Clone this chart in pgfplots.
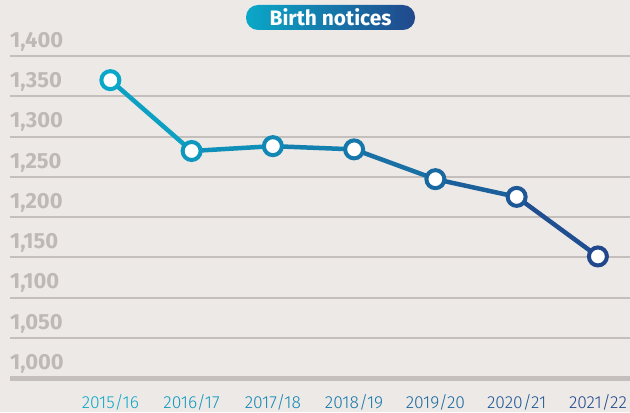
\documentclass[border=0pt]{standalone}
\usepackage{pgfplots}
\pgfplotsset{compat=1.18}
\usepackage{fontspec}
\setmainfont{Fira Sans}
\newfontfamily\lightfont{Fira Sans Light}
\definecolor{bg}{RGB}{237,233,230}
\definecolor{gridc}{RGB}{196,191,188}
\definecolor{labc}{RGB}{190,185,182}
\definecolor{cA}{RGB}{10,168,200}
\definecolor{cB}{RGB}{33,72,140}

\begin{document}
\begin{tikzpicture}[x=1bp,y=1bp]
\fill[bg] (0,0) rectangle (630,412);
\useasboundingbox (0,0) rectangle (630,412);
\begin{axis}[
    at={(10bp,34bp)}, anchor=south west,
    scale only axis,
    width=620bp, height=322bp,
    xmin=-1.235, xmax=6.395,
    ymin=1000, ymax=1400,
    axis line style={draw=none},
    major tick length=0pt,
    clip=false,
    ymajorgrids=true,
    grid style={gridc, line width=2bp},
    ytick={1000,1050,...,1400},
    yticklabels={{1,000},{1,050},{1,100},{1,150},{1,200},{1,250},{1,300},{1,350},{1,400}},
    yticklabel style={anchor=south west, inner sep=0pt, yshift=4.5bp, font=\fontsize{22}{22}\selectfont\bfseries, text=labc},
    xtick={0,...,6},
    xticklabels={{\textcolor{cA}{2015/16}},{\textcolor{cB!17!cA}{2016/17}},{\textcolor{cB!33!cA}{2017/18}},{\textcolor{cB!50!cA}{2018/19}},{\textcolor{cB!67!cA}{2019/20}},{\textcolor{cB!83!cA}{2020/21}},{\textcolor{cB}{2021/22}}},
    xticklabel style={anchor=base, inner sep=0pt, yshift=-30bp, font=\fontsize{17.5}{17.5}\lightfont},
    colormap={grad}{color=(cA) color=(cB)},
    point meta min=0, point meta max=6,
]
\draw[gridc, line width=5bp] (axis cs:-1.235,1000) -- (axis cs:6.395,1000);
\addplot[mesh, point meta=x, line width=4.5bp] coordinates {
(0,1370) (1,1282) (2,1288) (3,1284) (4,1247) (5,1225) (6,1151)
};
\addplot[scatter, only marks, point meta=x, mark=*, mark size=9bp,
    scatter/use mapped color={draw=mapped color, fill=white},
    mark options={line width=4bp}] coordinates {
(0,1370) (1,1282) (2,1288) (3,1284) (4,1247) (5,1225) (6,1151)
};
\end{axis}
\shade[left color=cA, right color=cB, rounded corners=12bp] (246,382) rectangle (415,407);
\node[text=white, font=\fontsize{21}{21}\selectfont\bfseries] at (330.5,394.5) {Birth notices};
\end{tikzpicture}
\end{document}
